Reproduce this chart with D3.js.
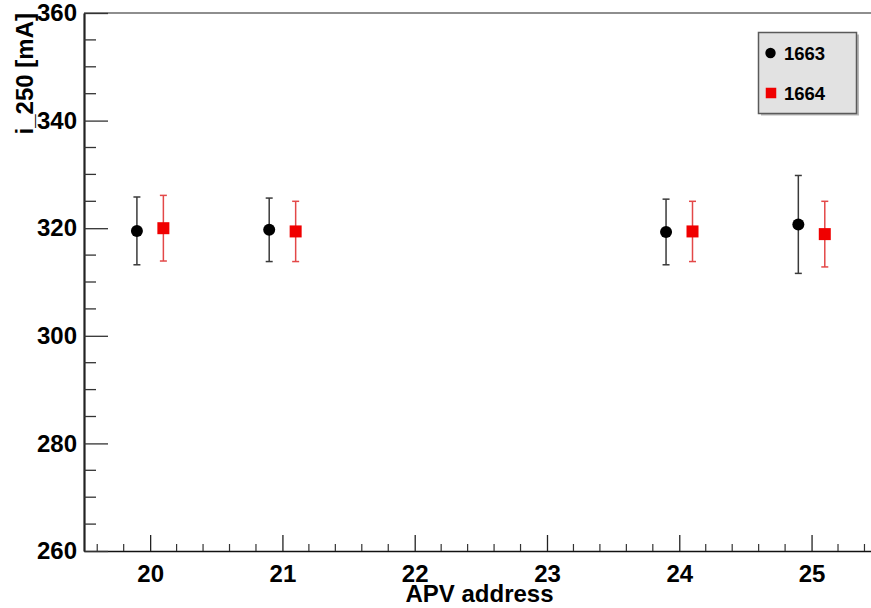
<!DOCTYPE html>
<html>
<head>
<meta charset="utf-8">
<script src="https://cdn.jsdelivr.net/npm/d3@7"></script>
<style>
  html, body { margin: 0; padding: 0; background: #fff; overflow: hidden; }
  svg { display: block; font-family: "Liberation Sans", Arial, Helvetica, sans-serif; font-weight: bold; }
</style>
</head>
<body>
<svg id="chart" width="871" height="608"></svg>
<script>
// APV current measurements for two modules
const apvAddress = [20, 21, 24, 25];
const series1663 = [319.5, 319.7, 319.3, 320.7];
const err1663    = [6.3, 5.9, 6.1, 9.1];
const series1664 = [320.0, 319.4, 319.4, 318.9];
const err1664    = [6.1, 5.6, 5.6, 6.1];
const seriesNames = ["1663", "1664"];

const xMajorTicks = [20, 21, 22, 23, 24, 25];
const yMajorTicks = [260, 280, 300, 320, 340, 360];

const svg = d3.select("#chart");
const plotLeft = 84, plotRight = 877.7, plotTop = 13, plotBottom = 551;

const x = d3.scaleLinear().domain([19.5, 25.5]).range([plotLeft, plotRight]);
const y = d3.scaleLinear().domain([260, 360]).range([plotBottom, plotTop]);

const xMinor = d3.range(19.6, 25.5, 0.2).filter(v => Math.abs(v - Math.round(v)) > 1e-6);
const yMinor = d3.range(260, 361, 5).filter(v => v % 20 !== 0);

// frame: top edge in grey
svg.append("line")
  .attr("x1", plotLeft).attr("x2", 871).attr("y1", plotTop).attr("y2", plotTop)
  .attr("stroke", "#8e8e8e").attr("stroke-width", 2.2);

// x axis
const xAxis = svg.append("g").attr("transform", `translate(0,${plotBottom})`)
  .call(d3.axisBottom(x).tickValues(xMajorTicks).tickSize(-16).tickPadding(14).tickSizeOuter(0).tickFormat(d3.format("d")));
xAxis.select(".domain").attr("stroke", "#111").attr("stroke-width", 1.6);
xAxis.selectAll(".tick line").attr("stroke", "#222").attr("stroke-width", 1.3);
xAxis.selectAll(".tick text").attr("font-size", 24).attr("fill", "#000").attr("font-family", null);
svg.append("g").attr("transform", `translate(0,${plotBottom})`)
  .selectAll("line").data(xMinor).join("line")
  .attr("x1", d => x(d)).attr("x2", d => x(d)).attr("y1", 0).attr("y2", -7)
  .attr("stroke", "#333").attr("stroke-width", 1.2);

// y axis
const yAxis = svg.append("g").attr("transform", `translate(${plotLeft},0)`)
  .call(d3.axisLeft(y).tickValues(yMajorTicks).tickSize(-24).tickPadding(7).tickSizeOuter(0).tickFormat(d3.format("d")));
yAxis.select(".domain").attr("stroke", "#222").attr("stroke-width", 2.2);
yAxis.selectAll(".tick line").attr("stroke", "#333").attr("stroke-width", 1.3);
yAxis.selectAll(".tick text").attr("font-size", 24).attr("fill", "#000").attr("font-family", null);
svg.append("g").attr("transform", `translate(${plotLeft},0)`)
  .selectAll("line").data(yMinor).join("line")
  .attr("x1", 0).attr("x2", 12).attr("y1", d => y(d)).attr("y2", d => y(d))
  .attr("stroke", "#333").attr("stroke-width", 1.3);

// axis titles
svg.append("text")
  .attr("x", (plotLeft + 871) / 2 + 2).attr("y", 602)
  .attr("text-anchor", "middle").attr("font-size", 24).attr("fill", "#000")
  .text("APV address");
svg.append("text")
  .attr("transform", `translate(33,${plotTop}) rotate(-90)`)
  .attr("text-anchor", "end").attr("font-size", 24).attr("fill", "#000")
  .text("i_250 [mA]");

// error bars and markers
const capW = 3.5;
function drawSeries(vals, errs, offset, lineColor, draw) {
  const g = svg.append("g");
  apvAddress.forEach((a, i) => {
    const cx = x(a + offset);
    const y0 = y(vals[i] - errs[i]), y1 = y(vals[i] + errs[i]);
    g.append("line").attr("x1", cx).attr("x2", cx).attr("y1", y0).attr("y2", y1)
      .attr("stroke", lineColor).attr("stroke-width", 1.5);
    [y0, y1].forEach(yy => g.append("line")
      .attr("x1", cx - capW).attr("x2", cx + capW).attr("y1", yy).attr("y2", yy)
      .attr("stroke", lineColor).attr("stroke-width", 1.5));
    draw(g, cx, y(vals[i]));
  });
}
const circleMark = (g, cx, cy, r = 6) => g.append("circle").attr("cx", cx).attr("cy", cy).attr("r", r).attr("fill", "#000");
const squareMark = (g, cx, cy, s = 12) => g.append("rect").attr("x", cx - s / 2).attr("y", cy - s / 2)
  .attr("width", s).attr("height", s).attr("fill", "#f00000");

drawSeries(series1663, err1663, -0.1, "#3a3a3a", circleMark);
drawSeries(series1664, err1664, 0.1, "#e34848", squareMark);

// legend
const lg = svg.append("g");
lg.append("rect").attr("x", 761).attr("y", 34.5).attr("width", 98).attr("height", 81).attr("fill", "#b8b8b8");
lg.append("rect").attr("x", 758.5).attr("y", 32.5).attr("width", 98).attr("height", 81)
  .attr("fill", "#e2e2e2").attr("stroke", "#5a5a5a").attr("stroke-width", 1.5);
circleMark(lg, 770.5, 53, 5.2);
squareMark(lg, 771, 93, 10.5);
lg.append("text").attr("x", 784).attr("y", 60).attr("font-size", 18.5).attr("fill", "#000").text(seriesNames[0]);
lg.append("text").attr("x", 784).attr("y", 100).attr("font-size", 18.5).attr("fill", "#000").text(seriesNames[1]);
</script>
</body>
</html>
